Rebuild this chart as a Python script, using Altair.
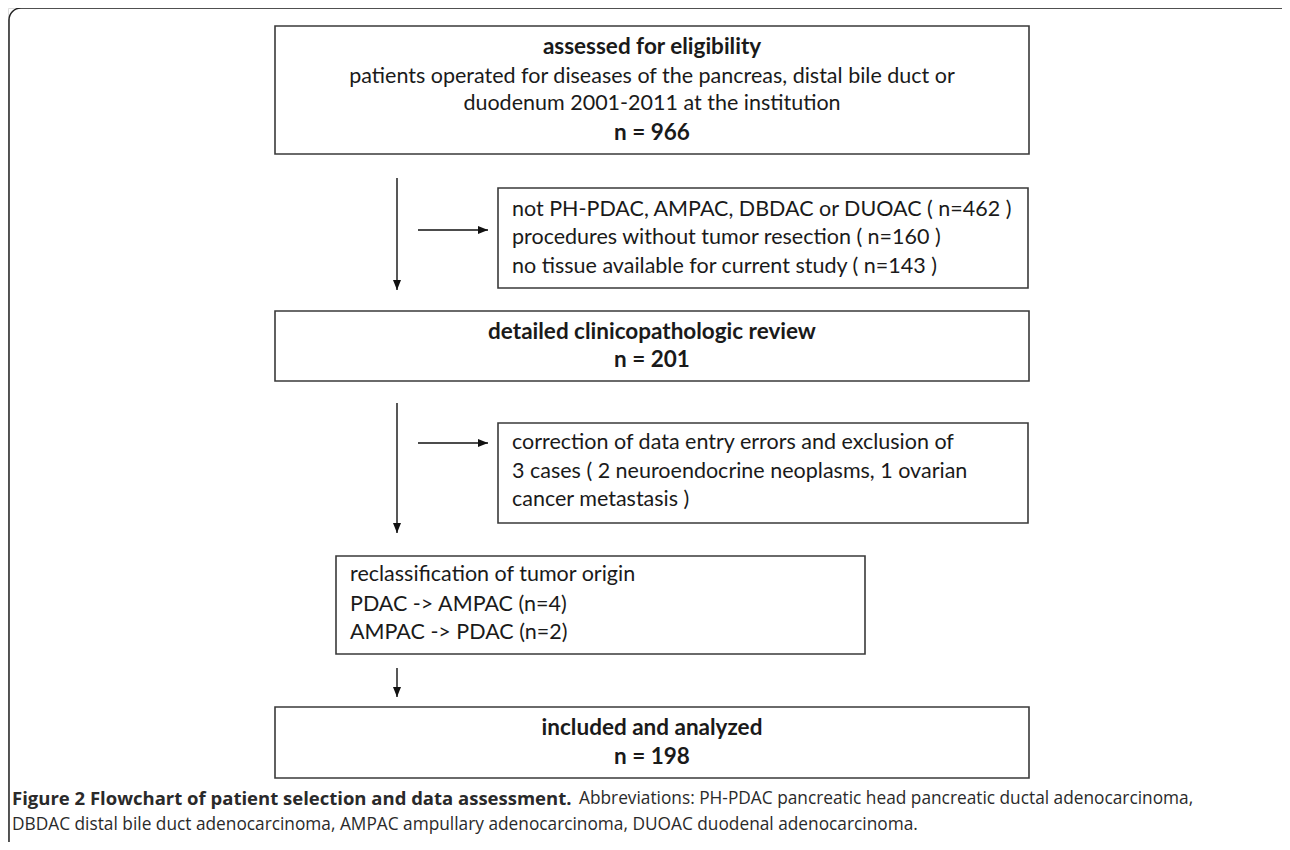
import altair as alt
import pandas as pd

# ---- boxes of the flowchart (page pixel layout) ----
box_names = ["eligibility", "exclusion_1", "review", "exclusion_2", "reclass", "analyzed"]
box_left = [275, 498, 275, 498, 336, 275]
box_right = [1029, 1028, 1029, 1028, 865, 1029]
box_top = [26, 188, 311, 423, 556, 707]
box_bottom = [154, 288, 381, 523, 654, 778]

# ---- centred text lines ----
center_lines = [
    "assessed for eligibility",
    "patients operated for diseases of the pancreas, distal bile duct or",
    "duodenum 2001-2011 at the institution",
    "n = 966",
    "detailed clinicopathologic review",
    "n = 201",
    "included and analyzed",
    "n = 198",
]
center_bold = [True, False, False, True, True, True, True, True]
center_y = [47, 77, 104, 133, 332, 360, 728, 757]
center_x = 652

# ---- left-aligned text lines ----
left_lines = [
    "not PH-PDAC, AMPAC, DBDAC or DUOAC ( n=462 )",
    "procedures without tumor resection  ( n=160 )",
    "no tissue available for current study ( n=143 )",
    "correction of data entry errors and exclusion of",
    "3 cases ( 2 neuroendocrine neoplasms, 1 ovarian",
    "cancer metastasis )",
    "reclassification of tumor origin",
    "PDAC -> AMPAC (n=4)",
    "AMPAC -> PDAC (n=2)",
]
left_x = [512, 512, 512, 512, 512, 512, 350, 350, 350]
left_y = [210, 238, 267, 443, 472, 500, 575, 605, 633]

# ---- arrows ----
vert_x = [397, 397, 397]
vert_y1 = [178, 403, 668]
vert_y2 = [290, 533, 697]
horiz_y = [230, 443]
horiz_x1 = [418, 418]
horiz_x2 = [488, 488]

# ---- caption ----
caption_bold = "Figure 2 Flowchart of patient selection and data assessment."
caption_rest_1 = "Abbreviations: PH-PDAC pancreatic head pancreatic ductal adenocarcinoma,"
caption_line_2 = "DBDAC distal bile duct adenocarcinoma, AMPAC ampullary adenocarcinoma, DUOAC duodenal adenocarcinoma."
caption_x = [12, 579, 12]
caption_y = [799, 799, 825]

W, H = 1274, 834
XS = alt.Scale(domain=[8, 8 + W], range=[0, W], zero=False, nice=False)
YS = alt.Scale(domain=[8, 8 + H], range=[0, H], zero=False, nice=False)

def X(f):
    return alt.X(f, type="quantitative", scale=XS, axis=None)

def X2(f):
    return alt.X2(f)

def Y(f):
    return alt.Y(f, type="quantitative", scale=YS, axis=None)

def Y2(f):
    return alt.Y2(f)

boxes = pd.DataFrame({"name": box_names, "x1": box_left, "x2": box_right,
                      "y1": box_top, "y2": box_bottom})
frame = pd.DataFrame({"x1": [9], "x2": [1300], "y1": [8], "y2": [880]})
ctext = pd.DataFrame({"t": center_lines, "b": center_bold, "y": center_y,
                      "x": [center_x] * len(center_lines)})
ltext = pd.DataFrame({"t": left_lines, "x": left_x, "y": left_y})
vdf = pd.DataFrame({"x": vert_x, "y1": vert_y1, "y2": vert_y2})
hdf = pd.DataFrame({"y": horiz_y, "x1": horiz_x1, "x2": horiz_x2})
cap = pd.DataFrame({"t": [caption_bold, caption_rest_1, caption_line_2],
                    "b": [True, False, False], "x": caption_x, "y": caption_y})

BOX_FONT = "Lato"
BOX_SIZE = 21.5
BOX_BOLD_SIZE = 22.5
CAP_FONT = "Open Sans"
CAP_SIZE = 17.3
CAP_BOLD_SIZE = 18.5

frame_layer = alt.Chart(frame).mark_rect(
    fillOpacity=0, stroke="#222", strokeWidth=1.5, cornerRadius=12
).encode(x=X("x1"), x2=X2("x2"), y=Y("y1"), y2=Y2("y2"))

box_layer = alt.Chart(boxes).mark_rect(
    fillOpacity=0, stroke="#3a3a3a", strokeWidth=1.6
).encode(x=X("x1"), x2=X2("x2"), y=Y("y1"), y2=Y2("y2"))

ctext_bold = alt.Chart(ctext).transform_filter("datum.b").mark_text(
    font=BOX_FONT, fontSize=BOX_BOLD_SIZE, fontWeight="bold", color="#1a1a1a",
    align="center", baseline="middle"
).encode(x=X("x"), y=Y("y"), text="t:N")

ctext_reg = alt.Chart(ctext).transform_filter("!datum.b").mark_text(
    font=BOX_FONT, fontSize=BOX_SIZE, color="#1a1a1a",
    align="center", baseline="middle"
).encode(x=X("x"), y=Y("y"), text="t:N")

ltext_layer = alt.Chart(ltext).mark_text(
    font=BOX_FONT, fontSize=BOX_SIZE, color="#1a1a1a",
    align="left", baseline="middle"
).encode(x=X("x"), y=Y("y"), text="t:N")

vlines = alt.Chart(vdf).mark_rule(color="#111", strokeWidth=1.4).encode(
    x=X("x"), y=Y("y1"), y2=Y2("y2"))
vheads = alt.Chart(vdf).mark_point(
    shape="M-1,-2.5L1,-2.5L0,0Z", filled=True, color="#111", opacity=1, size=64
).encode(x=X("x"), y=Y("y2"))

hlines = alt.Chart(hdf).mark_rule(color="#111", strokeWidth=1.4).encode(
    y=Y("y"), x=X("x1"), x2=X2("x2"))
hheads = alt.Chart(hdf).mark_point(
    shape="M-2.5,-1L-2.5,1L0,0Z", filled=True, color="#111", opacity=1, size=64
).encode(x=X("x2"), y=Y("y"))

cap_bold = alt.Chart(cap).transform_filter("datum.b").mark_text(
    font=CAP_FONT, fontSize=CAP_BOLD_SIZE, fontWeight="bold", color="#2a2a2a",
    align="left", baseline="middle"
).encode(x=X("x"), y=Y("y"), text="t:N")
cap_reg = alt.Chart(cap).transform_filter("!datum.b").mark_text(
    font=CAP_FONT, fontSize=CAP_SIZE, color="#2a2a2a",
    align="left", baseline="middle"
).encode(x=X("x"), y=Y("y"), text="t:N")

chart = alt.layer(
    frame_layer, box_layer, vlines, vheads, hlines, hheads,
    ctext_bold, ctext_reg, ltext_layer, cap_bold, cap_reg
).properties(
    width=W, height=H, padding=0,
    autosize=alt.AutoSizeParams(type="none")
).configure_view(stroke=None).configure(background="white")

chart.save("out.html", embed_options={"renderer": "svg", "actions": False})
